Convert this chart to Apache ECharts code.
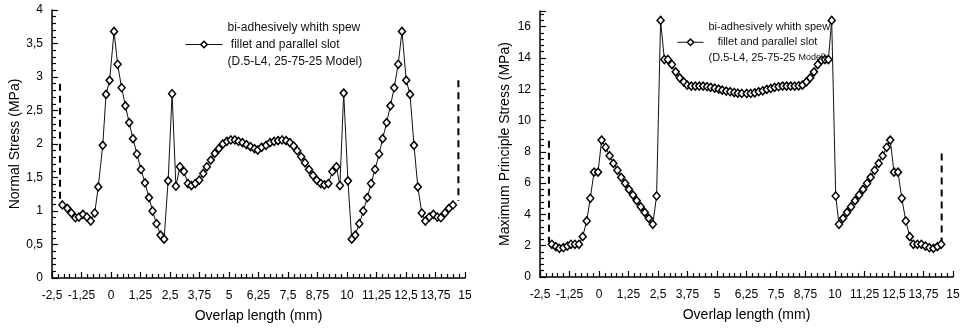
<!DOCTYPE html>
<html>
<head>
<meta charset="utf-8">
<script src="https://cdn.jsdelivr.net/npm/echarts@6/dist/echarts.min.js"></script>
<style>
  html, body { margin: 0; padding: 0; background: #fff; }
  #main { width: 963px; height: 329px; }
</style>
</head>
<body>
<div id="main"></div>
<script>
// overlap length (mm) and normal stress (MPa), left panel
var normalX = [-2.06, -1.85, -1.68, -1.51, -1.36, -1.19, -1.02, -0.86, -0.69, -0.54,
    -0.35, -0.21, -0.06, 0.13, 0.28, 0.45, 0.61, 0.77, 0.93, 1.10,
    1.27, 1.44, 1.61, 1.76, 1.93, 2.10, 2.25, 2.42, 2.59, 2.75,
    2.92, 3.09, 3.26, 3.41, 3.57, 3.74, 3.91, 4.06, 4.23, 4.40,
    4.57, 4.74, 4.91, 5.08, 5.25, 5.40, 5.57, 5.74, 5.91, 6.08,
    6.22, 6.38, 6.57, 6.74, 6.91, 7.08, 7.25, 7.42, 7.58, 7.74,
    7.89, 8.06, 8.22, 8.39, 8.56, 8.72, 8.89, 9.04, 9.21, 9.38,
    9.55, 9.70, 9.86, 10.04, 10.20, 10.35, 10.52, 10.69, 10.86, 11.02,
    11.19, 11.36, 11.51, 11.68, 11.84, 12.00, 12.17, 12.33, 12.51, 12.67,
    12.84, 13.00, 13.17, 13.32, 13.49, 13.66, 13.83, 13.98, 14.15, 14.32,
    14.49];
var normalStress = [1.09, 1.04, 0.97, 0.90, 0.91, 0.95, 0.91, 0.85, 0.97, 1.36,
    1.98, 2.74, 2.95, 3.68, 3.19, 2.84, 2.57, 2.32, 2.08, 1.85,
    1.62, 1.42, 1.20, 1.00, 0.81, 0.64, 0.58, 1.45, 2.75, 1.37,
    1.66, 1.59, 1.41, 1.38, 1.41, 1.46, 1.56, 1.66, 1.76, 1.86,
    1.93, 2.00, 2.04, 2.06, 2.06, 2.04, 2.02, 1.99, 1.96, 1.93,
    1.91, 1.95, 1.98, 2.02, 2.04, 2.05, 2.06, 2.05, 2.02, 1.97,
    1.90, 1.81, 1.72, 1.62, 1.53, 1.46, 1.41, 1.39, 1.41, 1.59,
    1.66, 1.38, 2.76, 1.45, 0.58, 0.64, 0.81, 1.00, 1.20, 1.41,
    1.62, 1.85, 2.08, 2.32, 2.57, 2.84, 3.19, 3.68, 2.95, 2.74,
    1.98, 1.36, 0.97, 0.85, 0.91, 0.95, 0.91, 0.90, 0.97, 1.04,
    1.09];

// overlap length (mm) and maximum principle stress (MPa), right panel
var principleX = [-2.00, -1.83, -1.68, -1.51, -1.34, -1.19, -1.02, -0.85, -0.69, -0.52,
    -0.37, -0.21, -0.04, 0.11, 0.28, 0.45, 0.61, 0.78, 0.94, 1.11,
    1.27, 1.44, 1.60, 1.77, 1.94, 2.11, 2.28, 2.44, 2.61, 2.77,
    2.92, 3.09, 3.25, 3.42, 3.59, 3.74, 3.91, 4.08, 4.25, 4.41,
    4.58, 4.73, 4.90, 5.07, 5.22, 5.39, 5.56, 5.73, 5.88, 6.05,
    6.26, 6.43, 6.60, 6.77, 6.94, 7.11, 7.28, 7.44, 7.61, 7.78,
    7.95, 8.12, 8.29, 8.46, 8.62, 8.79, 8.95, 9.11, 9.27, 9.43,
    9.58, 9.72, 9.86, 10.03, 10.17, 10.34, 10.51, 10.68, 10.85, 11.02,
    11.19, 11.36, 11.51, 11.68, 11.85, 12.02, 12.19, 12.34, 12.50, 12.67,
    12.83, 13.00, 13.17, 13.32, 13.49, 13.66, 13.83, 14.00, 14.17, 14.34,
    14.50];
var principleStress = [2.09, 1.94, 1.83, 1.87, 1.98, 2.09, 2.09, 2.09, 2.58, 3.58,
    5.03, 6.7, 6.7, 8.75, 8.29, 7.75, 7.26, 6.82, 6.37, 5.99,
    5.60, 5.24, 4.88, 4.49, 4.13, 3.75, 3.37, 5.18, 16.4, 13.9,
    13.9, 13.58, 13.11, 12.73, 12.47, 12.26, 12.2, 12.2, 12.2, 12.2,
    12.16, 12.12, 12.07, 12.01, 11.94, 11.88, 11.84, 11.79, 11.75, 11.73,
    11.73, 11.73, 11.77, 11.84, 11.90, 11.99, 12.05, 12.12, 12.16, 12.2,
    12.2, 12.2, 12.2, 12.22, 12.26, 12.47, 12.73, 13.11, 13.58, 13.85,
    13.9, 13.9, 16.4, 5.18, 3.37, 3.75, 4.13, 4.49, 4.88, 5.24,
    5.60, 5.99, 6.37, 6.82, 7.26, 7.75, 8.29, 8.75, 6.7, 6.7,
    5.03, 3.58, 2.58, 2.09, 2.09, 2.09, 1.98, 1.87, 1.83, 1.94,
    2.09];

// dashed end markers: [x, top, bottom]
var normalDashL = [-2.16, 2.9, 1.1];
var normalDashR = [14.72, 2.95, 1.15];
var principleDashL = [-2.12, 8.7, 2.2];
var principleDashR = [14.52, 7.9, 2.3];

var xTicks = { min: -2.5, max: 15, interval: 1.25 };
var legendLines = ['bi-adhesively whith spew', ' fillet and parallel slot', '(D.5-L4, 25-75-25 Model)'];

var FONT = '"Liberation Sans", Arial, sans-serif';

function pairs(xs, ys) {
    return xs.map(function (x, i) { return [x, ys[i]]; });
}
function dash(d) {
    return [[d[0], d[1]], [d[0], d[2]]];
}
function comma(v) {
    return String(v).replace('.', ',');
}

function xAxisOf(idx) {
    return {
        type: 'value',
        gridIndex: idx,
        min: xTicks.min,
        max: xTicks.max,
        interval: xTicks.interval,
        name: 'Overlap length (mm)',
        nameLocation: 'middle',
        nameGap: 31,
        nameTextStyle: { fontSize: 14, color: '#000', fontFamily: FONT },
        axisLine: { onZero: false, lineStyle: { color: '#000', width: 1.5 } },
        axisTick: { inside: true, length: 6, lineStyle: { color: '#000', width: 1.2 } },
        minorTick: { show: true, splitNumber: 5, length: 4, lineStyle: { color: '#000', width: 1.2 } },
        axisLabel: { formatter: comma, color: '#000', fontSize: 12, margin: 12, fontFamily: FONT },
        splitLine: { show: false }
    };
}

function yAxisOf(idx, name, max, interval, gap) {
    return {
        type: 'value',
        gridIndex: idx,
        min: 0,
        max: max,
        interval: interval,
        name: name,
        nameLocation: 'middle',
        nameGap: gap,
        nameTextStyle: { fontSize: 14, color: '#000', fontFamily: FONT },
        axisLine: { show: true, onZero: false, lineStyle: { color: '#000', width: 1.5 } },
        axisTick: { show: true, inside: true, length: 6, lineStyle: { color: '#000', width: 1.2 } },
        minorTick: { show: true, splitNumber: 5, length: 4, lineStyle: { color: '#000', width: 1.2 } },
        axisLabel: { formatter: comma, color: '#000', fontSize: 12, margin: 9, fontFamily: FONT, showMaxLabel: interval === 0.5 },
        splitLine: { show: false }
    };
}

function curve(name, idx, data) {
    return {
        name: name,
        type: 'line',
        xAxisIndex: idx,
        yAxisIndex: idx,
        data: data,
        symbol: 'diamond',
        symbolSize: [7, 8],
        showAllSymbol: true,
        lineStyle: { color: '#111', width: 1 },
        itemStyle: { color: '#fff', borderColor: '#000', borderWidth: 1.5 },
        emphasis: { disabled: true },
        z: 3
    };
}

function dashed(idx, d) {
    return {
        type: 'line',
        xAxisIndex: idx,
        yAxisIndex: idx,
        data: dash(d),
        symbol: 'none',
        silent: true,
        lineStyle: { color: '#000', width: 2, type: [7, 5] }
    };
}

var legendItem = { color: '#fff', borderColor: '#000', borderWidth: 1.5 };

var myChart = echarts.init(document.getElementById('main'));

myChart.setOption({
    animation: false,
    backgroundColor: '#fff',
    grid: [
        { left: 52, right: 498, top: 10, bottom: 51 },
        { left: 540, right: 10, top: 11, bottom: 52 }
    ],
    legend: [
        {
            data: ['Normal'],
            left: 180,
            top: 14,
            z: 10,
            itemWidth: 37,
            itemHeight: 8,
            itemStyle: legendItem,
            lineStyle: { color: '#111', width: 1 },
            selectedMode: false,
            formatter: function () { return legendLines.join('\n'); },
            textStyle: { fontSize: 12, lineHeight: 17, color: '#111', fontFamily: FONT }
        },
        {
            data: ['Principle'],
            left: 672,
            top: 14,
            z: 10,
            itemWidth: 26,
            itemHeight: 8,
            itemStyle: legendItem,
            lineStyle: { color: '#111', width: 1 },
            selectedMode: false,
            formatter: function () {
                return legendLines[0] + '\n   ' + legendLines[1].trim() + '\n(D.5-L4, 25-75-25 {s|Model)}';
            },
            textStyle: {
                fontSize: 11, lineHeight: 15.5, color: '#111', fontFamily: FONT,
                rich: { s: { fontSize: 9, color: '#111', fontFamily: FONT } }
            }
        }
    ],
    xAxis: [xAxisOf(0), xAxisOf(1)],
    yAxis: [
        yAxisOf(0, 'Normal Stress (MPa)', 4, 0.5, 30),
        yAxisOf(1, 'Maximum Principle Stress (MPa)', 17, 2, 28)
    ],
    series: [
        dashed(0, normalDashL),
        dashed(0, normalDashR),
        curve('Normal', 0, pairs(normalX, normalStress)),
        dashed(1, principleDashL),
        dashed(1, principleDashR),
        curve('Principle', 1, pairs(principleX, principleStress))
    ]
});
</script>
</body>
</html>
